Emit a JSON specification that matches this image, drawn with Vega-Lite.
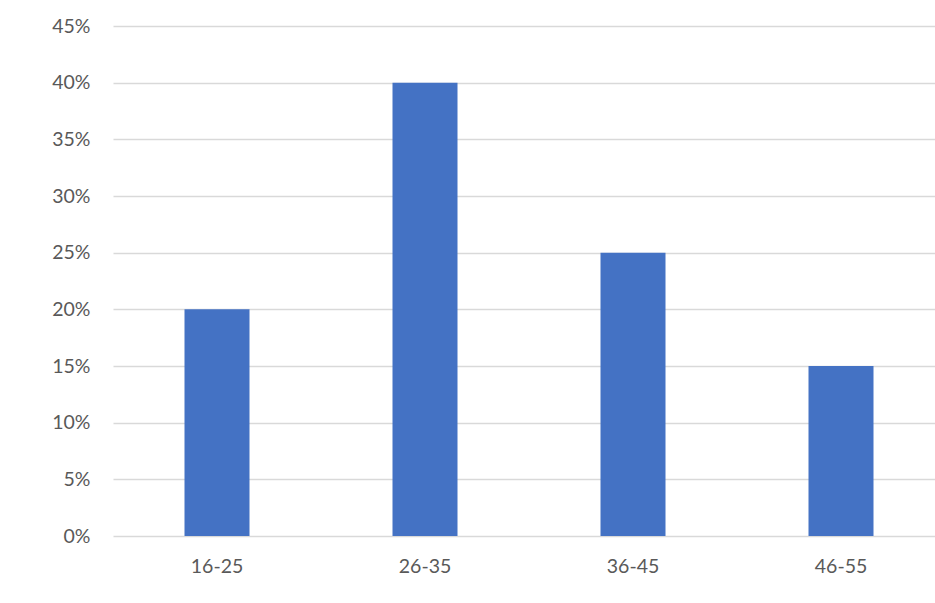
{
  "$schema": "https://vega.github.io/schema/vega-lite/v6.json",
  "width": 822,
  "height": 510,
  "autosize": "none",
  "padding": {"left": 113, "top": 26, "right": 0, "bottom": 67},
  "background": "white",
  "data": {"values": [
    {"age": "16-25", "pct": 0.20},
    {"age": "26-35", "pct": 0.40},
    {"age": "36-45", "pct": 0.25},
    {"age": "46-55", "pct": 0.15}
  ]},
  "mark": {"type": "bar", "color": "#4472C4"},
  "encoding": {
    "x": {
      "field": "age", "type": "nominal", "sort": null,
      "scale": {"range": [0, 832], "paddingInner": 0.6875, "paddingOuter": 0.34375},
      "axis": {"title": null, "labelAngle": 0, "ticks": false, "domain": false, "labelPadding": 21,
               "labelFont": "Lato", "labelFontSize": 19.5, "labelColor": "#595959"}
    },
    "y": {
      "field": "pct", "type": "quantitative",
      "scale": {"domain": [0, 0.45], "nice": false},
      "axis": {"title": null, "format": ".0%", "values": [0,0.05,0.1,0.15,0.2,0.25,0.3,0.35,0.4,0.45],
               "ticks": false, "domain": false, "labelPadding": 23,
               "labelFont": "Lato", "labelFontSize": 19.5, "labelColor": "#595959",
               "gridColor": "#d9d9d9", "gridWidth": 1.5}
    }
  },
  "config": {"view": {"stroke": null}}
}
